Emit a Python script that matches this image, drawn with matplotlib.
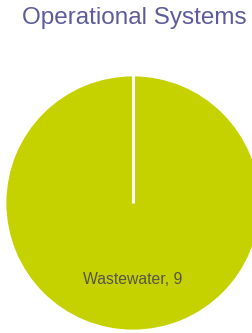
import matplotlib.pyplot as plt

labels = ['Wastewater']
values = [9]

fig = plt.figure(figsize=(2.53, 3.33), dpi=100)
ax = fig.add_axes([0, 0, 1, 1])

wedges, texts = ax.pie(values, labels=[f'{l}, {v}' for l, v in zip(labels, values)],
                       colors=['#c6d200'], startangle=90, counterclock=False,
                       labeldistance=0.6,
                       wedgeprops={'edgecolor': 'white', 'linewidth': 2},
                       textprops={'fontsize': 11.3, 'color': '#55554a',
                                  'family': 'Liberation Sans'})
for t in texts:
    t.set_ha('center')
    t.set_va('center')

# a full wedge has no radial edge, so draw the seam at the start angle
ax.plot([0, 0], [0, 1], color='white', lw=2.2, solid_capstyle='butt')

# circle centre at (133, 203) px from top-left, radius 128 px
ax.set_xlim(-133 / 128, 120 / 128)
ax.set_ylim(-130 / 128, 203 / 128)
ax.set_aspect('auto')
ax.axis('off')

fig.text(134 / 253, 1 - 18 / 333, 'Operational Systems', ha='center', va='center',
         fontsize=17.5, color='#5c5c9c', family='Liberation Sans')

fig.savefig('out.png', dpi=100)
